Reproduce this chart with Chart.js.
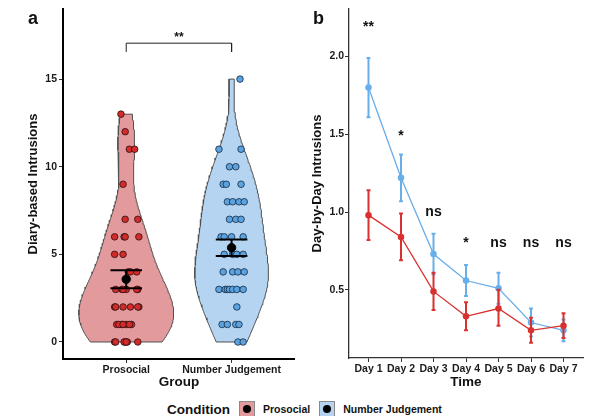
<!DOCTYPE html>
<html>
<head>
<meta charset="utf-8">
<script src="https://cdn.jsdelivr.net/npm/chart.js@4.4.0/dist/chart.umd.min.js"></script>
<style>
  body { margin: 0; background: #fff; width: 591px; height: 416px; position: relative; overflow: hidden;
         font-family: "Liberation Sans", Arial, sans-serif; color: #111; }
  canvas { position: absolute; top: 0; }
  #ca { left: 0; }
  #cb { left: 300px; }
  .tag { position: absolute; font-weight: bold; font-size: 18px; line-height: 18px; }
  #legend { position: absolute; left: 167px; top: 401px; height: 16px; display: flex; align-items: center;
            font-weight: bold; white-space: nowrap; }
  #legend .title { font-size: 13.5px; margin-right: 9px; }
  #legend .key { width: 14px; height: 14px; border: 1px solid #8a8a8a; position: relative; margin-right: 8px; }
  #legend .key::after { content: ""; position: absolute; left: 3px; top: 3px; width: 8px; height: 8px;
                        border-radius: 50%; background: #000; }
  #legend .name { font-size: 10.5px; margin-right: 9px; }
</style>
</head>
<body>
<canvas id="ca" width="300" height="395"></canvas>
<canvas id="cb" width="291" height="395"></canvas>
<div class="tag" style="left:28px;top:9px;">a</div>
<div class="tag" style="left:313px;top:9px;">b</div>
<div id="legend">
  <span class="title">Condition</span>
  <span class="key" style="background:#e39a9d"></span><span class="name">Prosocial</span>
  <span class="key" style="background:#b4d4f1"></span><span class="name">Number Judgement</span>
</div>
<script>
// ---- panel a data ----
const groups = ['Prosocial', 'Number Judgement'];
const prosocialScores = [13, 12, 11, 11, 9, 7, 7, 6, 6, 6, 6, 5, 5, 4, 4, 4,
  3, 3, 3, 3, 3, 3, 2, 2, 2, 2, 2, 2, 1, 1, 1, 1, 1, 1, 1, 0, 0, 0, 0, 0, 0, 0];
const prosocialJitter = [-0.05, -0.01, 0.03, 0.08, -0.03, -0.01, 0.11, -0.11, -0.02, -0.01, 0.12, -0.11, -0.03, 0.02, 0.04, 0.10,
  -0.10, -0.04, 0.0, -0.03, 0.11, 0.10, -0.11, -0.03, 0.04, 0.12, 0.11, -0.10, -0.09, -0.04, 0.0, 0.05, -0.07, 0.03, -0.03,
  -0.11, -0.10, -0.01, 0.01, 0.11, -0.02, 0.0];
const judgementScores = [15, 11, 11, 10, 10, 9, 9, 9, 8, 8, 8, 8, 7, 7, 7, 6, 6, 6, 6, 5, 5, 5, 5,
  4, 4, 4, 4, 3, 3, 3, 3, 3, 3, 3, 2, 1, 1, 1, 1, 0, 0];
const judgementJitter = [0.08, -0.12, 0.09, -0.02, 0.04, -0.08, -0.05, 0.09, -0.04, 0.01, 0.07, 0.12, -0.02, 0.04, 0.09,
  -0.10, -0.07, 0.0, 0.11, -0.07, 0.01, 0.05, 0.11, -0.08, 0.01, 0.06, 0.12,
  -0.12, -0.06, -0.04, -0.02, 0.01, 0.05, 0.11, 0.05, -0.09, -0.04, 0.04, 0.07, 0.06, 0.11];
const groupMeans = [3.58, 5.38];
const groupSE = [0.51, 0.47];
const yTicksA = [0, 5, 10, 15];
const bracketY = 17.05;
const bracketLabel = '**';

// ---- panel b data ----
const days = ['Day 1', 'Day 2', 'Day 3', 'Day 4', 'Day 5', 'Day 6', 'Day 7'];
const prosocialDaily = [0.98, 0.84, 0.49, 0.33, 0.38, 0.24, 0.27];
const prosocialHigh = [1.14, 0.99, 0.61, 0.42, 0.50, 0.32, 0.35];
const prosocialLow = [0.82, 0.69, 0.37, 0.24, 0.27, 0.16, 0.19];
const judgementDaily = [1.80, 1.22, 0.73, 0.56, 0.51, 0.29, 0.24];
const judgementHigh = [1.99, 1.37, 0.86, 0.66, 0.61, 0.38, 0.31];
const judgementLow = [1.61, 1.07, 0.60, 0.46, 0.41, 0.20, 0.17];
const dayStars = ['**', '*', 'ns', '*', 'ns', 'ns', 'ns'];
const dayStarY = [2.19, 1.49, 1.0, 0.8, 0.8, 0.8, 0.8];
const yTicksB = [0.5, 1.0, 1.5, 2.0];

const RED = '#d42a2a', RED_FILL = '#e39a9d', BLUE = '#5ba3e0', BLUE_FILL = '#b4d4f1';
const LINE_RED = '#d8312f', LINE_BLUE = '#68aeea';
const FONT = '"Liberation Sans", Arial, sans-serif';

// gaussian kernel density (bw.nrd0), trimmed to data range
function density(scores) {
  const n = scores.length;
  const mean = scores.reduce((a, b) => a + b, 0) / n;
  const sd = Math.sqrt(scores.reduce((a, b) => a + (b - mean) ** 2, 0) / (n - 1));
  const s = [...scores].sort((a, b) => a - b);
  const q = p => { const h = (n - 1) * p, l = Math.floor(h); return s[l] + (h - l) * (s[Math.min(l + 1, n - 1)] - s[l]); };
  const bw = 0.9 * Math.min(sd, (q(0.75) - q(0.25)) / 1.34) * Math.pow(n, -0.2);
  const ys = [], ds = [];
  for (let i = 0; i <= 120; i++) {
    const y = s[0] + (s[n - 1] - s[0]) * i / 120;
    let d = 0;
    for (const v of scores) { const z = (y - v) / bw; d += Math.exp(-0.5 * z * z); }
    ys.push(y); ds.push(d / (n * bw * Math.sqrt(2 * Math.PI)));
  }
  return { ys, ds };
}
const dens = [density(prosocialScores), density(judgementScores)];
const maxD = Math.max(...dens[0].ds, ...dens[1].ds);
function violinPath(k) {
  const c = k + 1, { ys, ds } = dens[k];
  const right = ys.map((y, i) => ({ x: c + 0.45 * ds[i] / maxD, y }));
  const left = ys.map((y, i) => ({ x: c - 0.45 * ds[i] / maxD, y })).reverse();
  return [...right, ...left, right[0]];
}
function errorPath(centres, lo, hi, cap) {
  const pts = [];
  centres.forEach((c, i) => {
    pts.push({ x: c, y: lo[i] }, { x: c, y: hi[i] }, { x: c, y: null });
    pts.push({ x: c - cap, y: hi[i] }, { x: c + cap, y: hi[i] }, { x: c, y: null });
    pts.push({ x: c - cap, y: lo[i] }, { x: c + cap, y: lo[i] }, { x: c, y: null });
  });
  return pts;
}

const textPlugin = {
  id: 'labels',
  afterDatasetsDraw(chart, args, opts) {
    const { ctx, scales: { x, y } } = chart;
    ctx.save();
    ctx.fillStyle = '#111';
    ctx.textAlign = 'center';
    ctx.textBaseline = 'middle';
    opts.items.forEach(it => {
      ctx.font = 'bold ' + it.size + 'px ' + FONT;
      ctx.fillText(it.text, x.getPixelForValue(it.x), y.getPixelForValue(it.y));
    });
    ctx.restore();
  }
};

function axisBase(width, color) {
  return {
    border: { display: true, color: color, width: width },
    grid: { drawOnChartArea: false, drawTicks: true, tickLength: 4, tickColor: '#333', lineWidth: 1 },
    ticks: { color: '#1a1a1a', font: { family: FONT, size: 10.5, weight: 'bold' }, maxRotation: 0, autoSkip: false }
  };
}

// ---- panel a ----
const mean = groupMeans;
const ax = axisBase(2, '#000'), ay = axisBase(2, '#000');
new Chart(document.getElementById('ca'), {
  type: 'scatter',
  data: {
    datasets: [
      { data: groups.map((g, i) => ({ x: i + 1, y: mean[i] })), pointRadius: 4.2, backgroundColor: '#000', borderColor: '#000', order: 0 },
      { data: errorPath([1, 2], mean.map((m, i) => m - groupSE[i]), mean.map((m, i) => m + groupSE[i]), 0.15),
        showLine: true, pointRadius: 0, borderColor: '#000', borderWidth: 2, order: 1 },
      { data: [{ x: 1, y: bracketY - 0.5 }, { x: 1, y: bracketY }, { x: 2, y: bracketY }, { x: 2, y: bracketY - 0.5 }],
        showLine: true, pointRadius: 0, borderColor: '#222', borderWidth: 1, order: 1 },
      { data: prosocialScores.map((s, i) => ({ x: 1 + prosocialJitter[i], y: s })), pointRadius: 3.3,
        backgroundColor: RED, borderColor: '#2a1010', borderWidth: 0.8, order: 2 },
      { data: judgementScores.map((s, i) => ({ x: 2 + judgementJitter[i], y: s })), pointRadius: 3.3,
        backgroundColor: BLUE, borderColor: '#152a40', borderWidth: 0.8, order: 2 },
      { data: violinPath(0), showLine: true, fill: 'shape', backgroundColor: RED_FILL, borderColor: '#505050', borderWidth: 1, pointRadius: 0, order: 5 },
      { data: violinPath(1), showLine: true, fill: 'shape', backgroundColor: BLUE_FILL, borderColor: '#505050', borderWidth: 1, pointRadius: 0, order: 5 }
    ]
  },
  options: {
    responsive: false, animation: false, events: [],
    layout: { padding: { top: 9, right: 2, left: 0, bottom: 0 } },
    plugins: { legend: { display: false }, tooltip: { enabled: false },
      labels: { items: [{ text: bracketLabel, x: 1.5, y: bracketY + 0.3, size: 12 }] } },
    scales: {
      x: Object.assign(ax, {
        type: 'linear', min: 0.4, max: 2.6,
        afterBuildTicks: s => { s.ticks = groups.map((g, i) => ({ value: i + 1 })); },
        afterFit: s => { s.height = 36; },
        ticks: Object.assign(ax.ticks, { padding: 1, callback: v => groups[v - 1] }),
        title: { display: true, text: 'Group', color: '#111', font: { family: FONT, size: 13.5, weight: 'bold' }, padding: { top: 0, bottom: 5 } }
      }),
      y: Object.assign(ay, {
        min: -0.97, max: 19,
        afterBuildTicks: s => { s.ticks = yTicksA.map(v => ({ value: v })); },
        afterFit: s => { s.width = 63; },
        ticks: Object.assign(ay.ticks, { padding: 2 }),
        title: { display: true, text: 'Diary-based Intrusions', color: '#111', font: { family: FONT, size: 13, weight: 'bold' }, padding: { top: 26, bottom: 0 } }
      })
    }
  },
  plugins: [textPlugin]
});

// ---- panel b ----
const dayIdx = days.map((d, i) => i + 1);
const bx = axisBase(1.3, '#333'), by = axisBase(1.3, '#333');
new Chart(document.getElementById('cb'), {
  type: 'scatter',
  data: {
    datasets: [
      { data: errorPath(dayIdx, prosocialLow, prosocialHigh, 0.06), showLine: true, pointRadius: 0, borderColor: LINE_RED, borderWidth: 2, order: 1 },
      { data: dayIdx.map((d, i) => ({ x: d, y: prosocialDaily[i] })), showLine: true, borderColor: LINE_RED, backgroundColor: LINE_RED,
        borderWidth: 1.3, pointRadius: 2.6, order: 1 },
      { data: errorPath(dayIdx, judgementLow, judgementHigh, 0.06), showLine: true, pointRadius: 0, borderColor: LINE_BLUE, borderWidth: 2, order: 2 },
      { data: dayIdx.map((d, i) => ({ x: d, y: judgementDaily[i] })), showLine: true, borderColor: LINE_BLUE, backgroundColor: LINE_BLUE,
        borderWidth: 1.3, pointRadius: 2.6, order: 2 }
    ]
  },
  options: {
    responsive: false, animation: false, events: [],
    layout: { padding: { top: 9, right: 8, left: 0, bottom: 0 } },
    plugins: { legend: { display: false }, tooltip: { enabled: false },
      labels: { items: dayStars.map((t, i) => ({ text: t, x: i + 1, y: dayStarY[i], size: 14 })) } },
    scales: {
      x: Object.assign(bx, {
        type: 'linear', min: 0.4, max: 7.6,
        afterBuildTicks: s => { s.ticks = dayIdx.map(v => ({ value: v })); },
        afterFit: s => { s.height = 37; },
        ticks: Object.assign(bx.ticks, { padding: 1, callback: v => days[v - 1] }),
        title: { display: true, text: 'Time', color: '#111', font: { family: FONT, size: 13.5, weight: 'bold' }, padding: { top: 0, bottom: 5 } }
      }),
      y: Object.assign(by, {
        min: 0.062, max: 2.305,
        afterBuildTicks: s => { s.ticks = yTicksB.map(v => ({ value: v })); },
        afterFit: s => { s.width = 49; },
        ticks: Object.assign(by.ticks, { padding: 1, callback: v => v.toFixed(1) }),
        title: { display: true, text: 'Day-by-Day Intrusions', color: '#111', font: { family: FONT, size: 13, weight: 'bold' }, padding: { top: 10, bottom: 0 } }
      })
    }
  },
  plugins: [textPlugin]
});
</script>
</body>
</html>
